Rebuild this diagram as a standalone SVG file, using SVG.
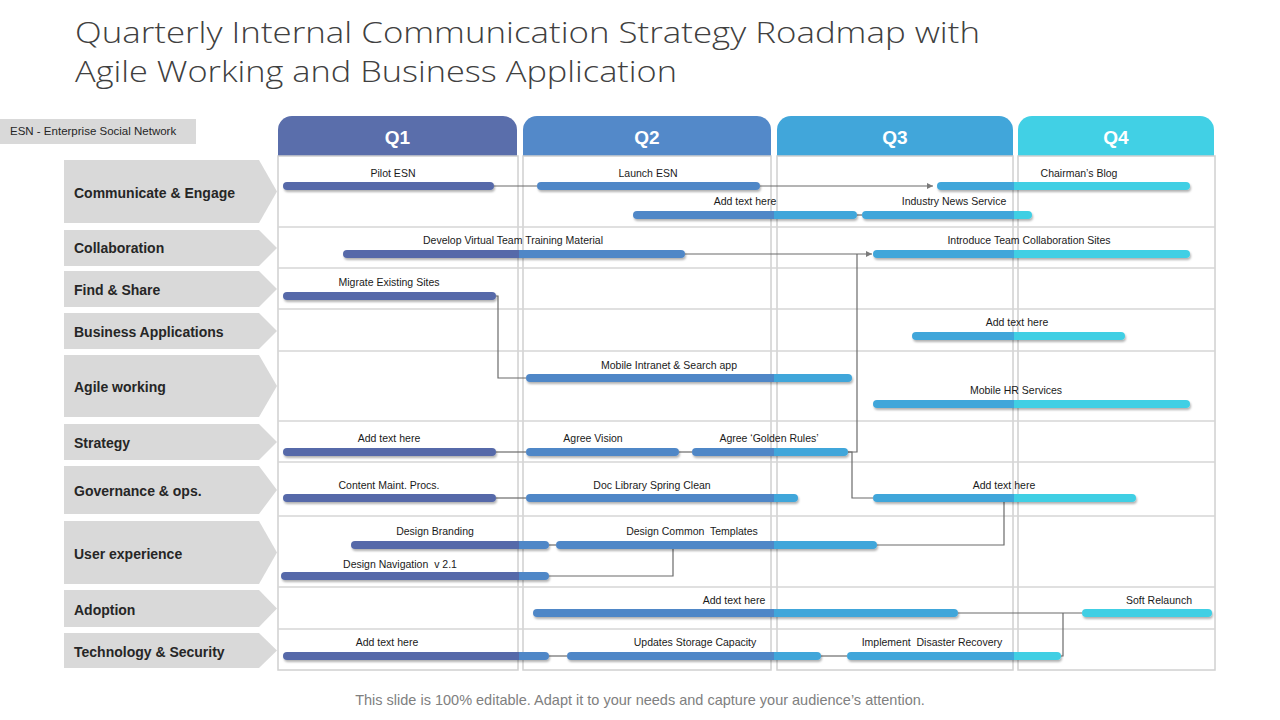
<svg xmlns="http://www.w3.org/2000/svg" width="1280" height="720" viewBox="0 0 1280 720">
<style>
.title{font-family:"Open Sans","Liberation Sans",sans-serif;font-size:28.5px;font-weight:300;fill:#404040}
.rowlab{font-family:"Liberation Sans",Arial,sans-serif;font-size:14px;font-weight:bold;fill:#262626}
.chev{fill:#d9d9d9}
.grid{fill:none;stroke:#d0d0d0;stroke-width:1.5}
.hline{stroke:#d6d6d6;stroke-width:1.5}
.qtext{font-family:"Liberation Sans",Arial,sans-serif;font-size:19px;font-weight:bold;fill:#ffffff;text-anchor:middle}
.blab{font-family:"Liberation Sans",Arial,sans-serif;font-size:10.5px;fill:#1a1a1a;text-anchor:middle;white-space:pre}
.bar{fill:url(#qg);filter:url(#sh)}
.conn{fill:none;stroke:#6b6b6b;stroke-width:1.2}
.foot{font-family:"Liberation Sans",Arial,sans-serif;font-size:14.5px;fill:#808080;text-anchor:middle}
.esn{font-family:"Liberation Sans",Arial,sans-serif;font-size:11.5px;fill:#262626}
</style>
<defs>
<linearGradient id="qg" gradientUnits="userSpaceOnUse" x1="0" y1="0" x2="1280" y2="0">
<stop offset="0" stop-color="#5669a9"/>
<stop offset="0.4055" stop-color="#5669a9"/>
<stop offset="0.4055" stop-color="#4f87c7"/>
<stop offset="0.6047" stop-color="#4f87c7"/>
<stop offset="0.6047" stop-color="#3fa6da"/>
<stop offset="0.7925" stop-color="#3fa6da"/>
<stop offset="0.7925" stop-color="#3fcfe4"/>
<stop offset="1" stop-color="#3fcfe4"/>
</linearGradient>
<filter id="sh" x="-5%" y="-80%" width="110%" height="260%">
<feDropShadow dx="1" dy="2" stdDeviation="1" flood-color="#000" flood-opacity="0.3"/>
</filter>
<marker id="arr" markerWidth="8" markerHeight="8" refX="6" refY="3" orient="auto" markerUnits="userSpaceOnUse">
<path d="M0,0 L6,3 L0,6 Z" fill="#7a7a7a"/>
</marker>
</defs>
<rect width="1280" height="720" fill="#ffffff"/>

<g id="title">
<text class="title" x="75" y="43" textLength="905" lengthAdjust="spacingAndGlyphs">Quarterly Internal Communication Strategy Roadmap with</text>
<text class="title" x="75" y="82" textLength="602" lengthAdjust="spacingAndGlyphs">Agile Working and Business Application</text>
</g>

<g id="esn-note">
<rect x="0" y="119" width="196" height="25" fill="#d9d9d9"/>
<text class="esn" x="10" y="135">ESN - Enterprise Social Network</text>
</g>

<g id="quarter-headers">
<g id="q1"><path d="M278,156 V130 A14,14 0 0 1 292,116 H503 A14,14 0 0 1 517,130 V156 Z" fill="#5a6eab"/><text class="qtext" x="397.5" y="144">Q1</text></g>
<g id="q2"><path d="M523,156 V130 A14,14 0 0 1 537,116 H757 A14,14 0 0 1 771,130 V156 Z" fill="#5389c9"/><text class="qtext" x="647" y="144">Q2</text></g>
<g id="q3"><path d="M777,156 V130 A14,14 0 0 1 791,116 H999 A14,14 0 0 1 1013,130 V156 Z" fill="#41a6da"/><text class="qtext" x="895" y="144">Q3</text></g>
<g id="q4"><path d="M1018,156 V130 A14,14 0 0 1 1032,116 H1200 A14,14 0 0 1 1214,130 V156 Z" fill="#41d0e5"/><text class="qtext" x="1116" y="144">Q4</text></g>
</g>

<g id="grid">
<rect class="grid" x="278" y="156" width="240" height="514"/>
<rect class="grid" x="523" y="156" width="248" height="514"/>
<rect class="grid" x="777" y="156" width="236" height="514"/>
<rect class="grid" x="1018" y="156" width="197" height="514"/>
<line class="hline" x1="278" y1="227" x2="1215" y2="227"/>
<line class="hline" x1="278" y1="268" x2="1215" y2="268"/>
<line class="hline" x1="278" y1="309" x2="1215" y2="309"/>
<line class="hline" x1="278" y1="351" x2="1215" y2="351"/>
<line class="hline" x1="278" y1="421" x2="1215" y2="421"/>
<line class="hline" x1="278" y1="462" x2="1215" y2="462"/>
<line class="hline" x1="278" y1="516" x2="1215" y2="516"/>
<line class="hline" x1="278" y1="587" x2="1215" y2="587"/>
<line class="hline" x1="278" y1="629" x2="1215" y2="629"/>
</g>

<g id="row-labels">
<g id="row-communicate"><path class="chev" d="M64,160 H259 L277,191.5 L259,223 H64 Z"/><text class="rowlab" x="74" y="198">Communicate &amp; Engage</text></g>
<g id="row-collaboration"><path class="chev" d="M64,230 H259 L277,248 L259,266 H64 Z"/><text class="rowlab" x="74" y="253">Collaboration</text></g>
<g id="row-find"><path class="chev" d="M64,271 H259 L277,289 L259,307 H64 Z"/><text class="rowlab" x="74" y="295">Find &amp; Share</text></g>
<g id="row-business"><path class="chev" d="M64,313 H259 L277,331 L259,349 H64 Z"/><text class="rowlab" x="74" y="337">Business Applications</text></g>
<g id="row-agile"><path class="chev" d="M64,355 H259 L277,386 L259,417 H64 Z"/><text class="rowlab" x="74" y="392">Agile working</text></g>
<g id="row-strategy"><path class="chev" d="M64,424 H259 L277,442 L259,460 H64 Z"/><text class="rowlab" x="74" y="448">Strategy</text></g>
<g id="row-governance"><path class="chev" d="M64,466 H259 L277,490 L259,514 H64 Z"/><text class="rowlab" x="74" y="496">Governance &amp; ops.</text></g>
<g id="row-ux"><path class="chev" d="M64,521 H259 L277,552.5 L259,584 H64 Z"/><text class="rowlab" x="74" y="559">User experience</text></g>
<g id="row-adoption"><path class="chev" d="M64,590 H259 L277,608.5 L259,627 H64 Z"/><text class="rowlab" x="74" y="615">Adoption</text></g>
<g id="row-tech"><path class="chev" d="M64,633 H259 L277,650.5 L259,668 H64 Z"/><text class="rowlab" x="74" y="657">Technology &amp; Security</text></g>
</g>

<g id="connectors">
<path class="conn" d="M494,186 H537"/>
<path class="conn" d="M760,186 H933" marker-end="url(#arr)"/>
<path class="conn" d="M857,215 H862"/>
<path class="conn" d="M685,254 H872" marker-end="url(#arr)"/>
<path class="conn" d="M848,452 H857 V254"/>
<path class="conn" d="M496,296 H498 V378 H526"/>
<path class="conn" d="M496,452 H526"/>
<path class="conn" d="M679,452 H692"/>
<path class="conn" d="M848,452 H852 V498 H873"/>
<path class="conn" d="M496,498 H526"/>
<path class="conn" d="M1004,502 V545 H877"/>
<path class="conn" d="M549,545 H556"/>
<path class="conn" d="M673,549 V576 H549"/>
<path class="conn" d="M958,613 H1082"/>
<path class="conn" d="M1061,656 H1063 V613"/>
<path class="conn" d="M549,656 H567"/>
<path class="conn" d="M821,656 H847"/>
</g>

<g id="bars">
<g id="pilot-esn"><rect class="bar" x="283" y="182" width="211" height="8" rx="4"/><text class="blab" x="393" y="177">Pilot ESN</text></g>
<g id="launch-esn"><rect class="bar" x="537" y="182" width="223" height="8" rx="4"/><text class="blab" x="648" y="177">Launch ESN</text></g>
<g id="chairmans-blog"><rect class="bar" x="937" y="182" width="253" height="8" rx="4"/><text class="blab" x="1079" y="177">Chairman’s Blog</text></g>
<g id="ce-add-text"><rect class="bar" x="633" y="211" width="224" height="8" rx="4"/><text class="blab" x="745" y="205">Add text here</text></g>
<g id="industry-news"><rect class="bar" x="862" y="211" width="170" height="8" rx="4"/><text class="blab" x="954" y="205">Industry News Service</text></g>
<g id="develop-training"><rect class="bar" x="343" y="250" width="342" height="8" rx="4"/><text class="blab" x="513" y="244">Develop Virtual Team Training Material</text></g>
<g id="intro-collab"><rect class="bar" x="873" y="250" width="317" height="8" rx="4"/><text class="blab" x="1029" y="244">Introduce Team Collaboration Sites</text></g>
<g id="migrate-sites"><rect class="bar" x="283" y="292" width="213" height="8" rx="4"/><text class="blab" x="389" y="286">Migrate Existing Sites</text></g>
<g id="ba-add-text"><rect class="bar" x="912" y="332" width="213" height="8" rx="4"/><text class="blab" x="1017" y="326">Add text here</text></g>
<g id="mobile-intranet"><rect class="bar" x="526" y="374" width="326" height="8" rx="4"/><text class="blab" x="669" y="369">Mobile Intranet &amp; Search app</text></g>
<g id="mobile-hr"><rect class="bar" x="873" y="400" width="317" height="8" rx="4"/><text class="blab" x="1016" y="394">Mobile HR Services</text></g>
<g id="st-add-text"><rect class="bar" x="283" y="448" width="213" height="8" rx="4"/><text class="blab" x="389" y="442">Add text here</text></g>
<g id="agree-vision"><rect class="bar" x="526" y="448" width="153" height="8" rx="4"/><text class="blab" x="593" y="442">Agree Vision</text></g>
<g id="golden-rules"><rect class="bar" x="692" y="448" width="156" height="8" rx="4"/><text class="blab" x="769" y="442">Agree ‘Golden Rules’</text></g>
<g id="content-maint"><rect class="bar" x="283" y="494" width="213" height="8" rx="4"/><text class="blab" x="389" y="489">Content Maint. Procs.</text></g>
<g id="doc-library"><rect class="bar" x="526" y="494" width="272" height="8" rx="4"/><text class="blab" x="652" y="489">Doc Library Spring Clean</text></g>
<g id="gov-add-text"><rect class="bar" x="873" y="494" width="263" height="8" rx="4"/><text class="blab" x="1004" y="489">Add text here</text></g>
<g id="design-branding"><rect class="bar" x="351" y="541" width="198" height="8" rx="4"/><text class="blab" x="435" y="535">Design Branding</text></g>
<g id="design-templates"><rect class="bar" x="556" y="541" width="321" height="8" rx="4"/><text class="blab" x="692" y="535">Design Common  Templates</text></g>
<g id="design-nav"><rect class="bar" x="281" y="572" width="268" height="8" rx="4"/><text class="blab" x="400" y="568">Design Navigation  v 2.1</text></g>
<g id="ad-add-text"><rect class="bar" x="533" y="609" width="425" height="8" rx="4"/><text class="blab" x="734" y="604">Add text here</text></g>
<g id="soft-relaunch"><rect class="bar" x="1082" y="609" width="130" height="8" rx="4"/><text class="blab" x="1159" y="604">Soft Relaunch</text></g>
<g id="ts-add-text"><rect class="bar" x="283" y="652" width="266" height="8" rx="4"/><text class="blab" x="387" y="646">Add text here</text></g>
<g id="storage"><rect class="bar" x="567" y="652" width="254" height="8" rx="4"/><text class="blab" x="695" y="646">Updates Storage Capacity</text></g>
<g id="disaster"><rect class="bar" x="847" y="652" width="214" height="8" rx="4"/><text class="blab" x="932" y="646">Implement  Disaster Recovery</text></g>
</g>

<g id="footer">
<text class="foot" x="640" y="705">This slide is 100% editable. Adapt it to your needs and capture your audience’s attention.</text>
</g>
</svg>
